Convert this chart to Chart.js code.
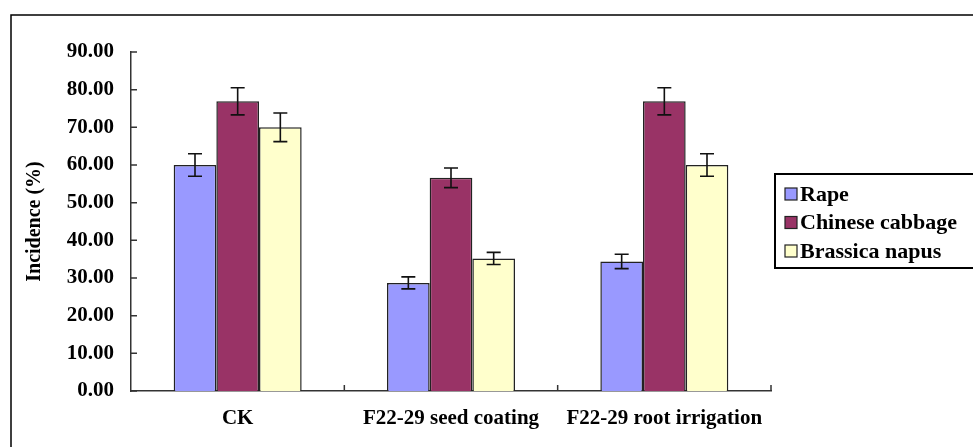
<!DOCTYPE html>
<html>
<head>
<meta charset="utf-8">
<script src="https://cdn.jsdelivr.net/npm/chart.js@4/dist/chart.umd.min.js"></script>
<style>
  html, body { margin: 0; padding: 0; background: #fff; }
  #wrap { width: 973px; height: 447px; }
</style>
</head>
<body>
<div id="wrap"><canvas id="myChart" width="973" height="447"></canvas></div>
<script>
// categories and values
var categories = ['CK', 'F22-29 seed coating', 'F22-29 root irrigation'];
var seriesNames = ['Rape', 'Chinese cabbage', 'Brassica napus'];
var rape = [60.0, 28.7, 34.4];
var rapeErr = [3.0, 1.6, 1.9];
var cabbage = [76.9, 56.6, 76.9];
var cabbageErr = [3.6, 2.6, 3.6];
var napus = [70.0, 35.2, 60.0];
var napusErr = [3.8, 1.6, 3.0];
var yTicks = [0, 10, 20, 30, 40, 50, 60, 70, 80, 90];

var serif = "'Liberation Serif', 'Times New Roman', serif";

// outer frame, inward ticks, error bars and the boxed legend
var extras = {
    id: 'extras',
    beforeDraw: function (chart) {
        var c = chart.ctx;
        c.save();
        c.fillStyle = '#fff';
        c.fillRect(0, 0, chart.width, chart.height);
        c.strokeStyle = '#000';
        c.lineWidth = 1.5;
        c.strokeRect(11, 15, chart.width + 20, chart.height + 20);
        c.restore();
    },
    afterDatasetsDraw: function (chart) {
        var c = chart.ctx;
        var y = chart.scales.y, x = chart.scales.x;
        c.save();
        // error bars
        c.strokeStyle = '#111';
        c.lineWidth = 1.6;
        chart.data.datasets.forEach(function (ds, di) {
            var meta = chart.getDatasetMeta(di);
            meta.data.forEach(function (bar, i) {
                var v = ds.data[i], e = ds.errors[i];
                var top = y.getPixelForValue(v + e);
                var bot = y.getPixelForValue(v - e);
                c.beginPath();
                c.moveTo(bar.x, top); c.lineTo(bar.x, bot);
                c.moveTo(bar.x - 7, top); c.lineTo(bar.x + 7, top);
                c.moveTo(bar.x - 7, bot); c.lineTo(bar.x + 7, bot);
                c.stroke();
            });
        });
        // inward tick marks
        c.strokeStyle = '#333';
        c.lineWidth = 1.5;
        c.beginPath();
        yTicks.forEach(function (t) {
            var py = y.getPixelForValue(t);
            c.moveTo(x.left, py); c.lineTo(x.left + 6, py);
        });
        var step = (x.right - x.left) / categories.length;
        for (var i = 1; i <= categories.length; i++) {
            var px = x.left + i * step;
            c.moveTo(px, y.bottom); c.lineTo(px, y.bottom - 6);
        }
        c.stroke();
        // legend box
        var lx = 775, ly = 174;
        c.strokeStyle = '#000';
        c.lineWidth = 2;
        c.strokeRect(lx, ly, 240, 94);
        c.font = 'bold 22px ' + serif;
        c.textBaseline = 'middle';
        c.textAlign = 'left';
        chart.data.datasets.forEach(function (ds, di) {
            var cy = ly + 20 + di * 28.5;
            c.fillStyle = ds.backgroundColor;
            c.fillRect(lx + 10, cy - 6, 12, 12);
            c.strokeStyle = '#222';
            c.lineWidth = 1.2;
            c.strokeRect(lx + 10, cy - 6, 12, 12);
            c.fillStyle = '#000';
            c.fillText(ds.label, lx + 25, cy + 1);
        });
        c.restore();
    }
};

var ctx = document.getElementById('myChart').getContext('2d');
var chart = new Chart(ctx, {
    type: 'bar',
    data: {
        labels: categories,
        datasets: [{
            label: seriesNames[0],
            data: rape,
            errors: rapeErr,
            backgroundColor: '#9999FF',
            borderColor: '#222',
            borderWidth: 1.5
        }, {
            label: seriesNames[1],
            data: cabbage,
            errors: cabbageErr,
            backgroundColor: '#993366',
            borderColor: '#222',
            borderWidth: 1.5
        }, {
            label: seriesNames[2],
            data: napus,
            errors: napusErr,
            backgroundColor: '#FFFFCC',
            borderColor: '#222',
            borderWidth: 1.5
        }]
    },
    options: {
        responsive: false,
        animation: false,
        layout: {
            padding: { left: 0, right: 202, top: 52, bottom: 0 }
        },
        plugins: {
            legend: { display: false },
            tooltip: { enabled: false }
        },
        datasets: {
            bar: { categoryPercentage: 0.6, barPercentage: 1.0 }
        },
        scales: {
            x: {
                grid: { display: false, drawTicks: false },
                border: { color: '#333', width: 1.5 },
                ticks: {
                    color: '#000',
                    padding: 15,
                    maxRotation: 0,
                    font: { family: serif, size: 21, weight: 'bold' }
                },
                afterFit: function (s) { s.height = 56; }
            },
            y: {
                min: 0,
                max: 90,
                grid: { display: false, drawTicks: false },
                border: { color: '#333', width: 1.5 },
                ticks: {
                    stepSize: 10,
                    color: '#000',
                    padding: 17,
                    font: { family: serif, size: 21, weight: 'bold' },
                    callback: function (v) { return v.toFixed(2); }
                },
                title: {
                    display: true,
                    text: 'Incidence (%)',
                    color: '#000',
                    padding: { top: 23, bottom: 0 },
                    font: { family: serif, size: 20, weight: 'bold' }
                },
                afterFit: function (s) { s.width = 131; }
            }
        }
    },
    plugins: [extras]
});
</script>
</body>
</html>
